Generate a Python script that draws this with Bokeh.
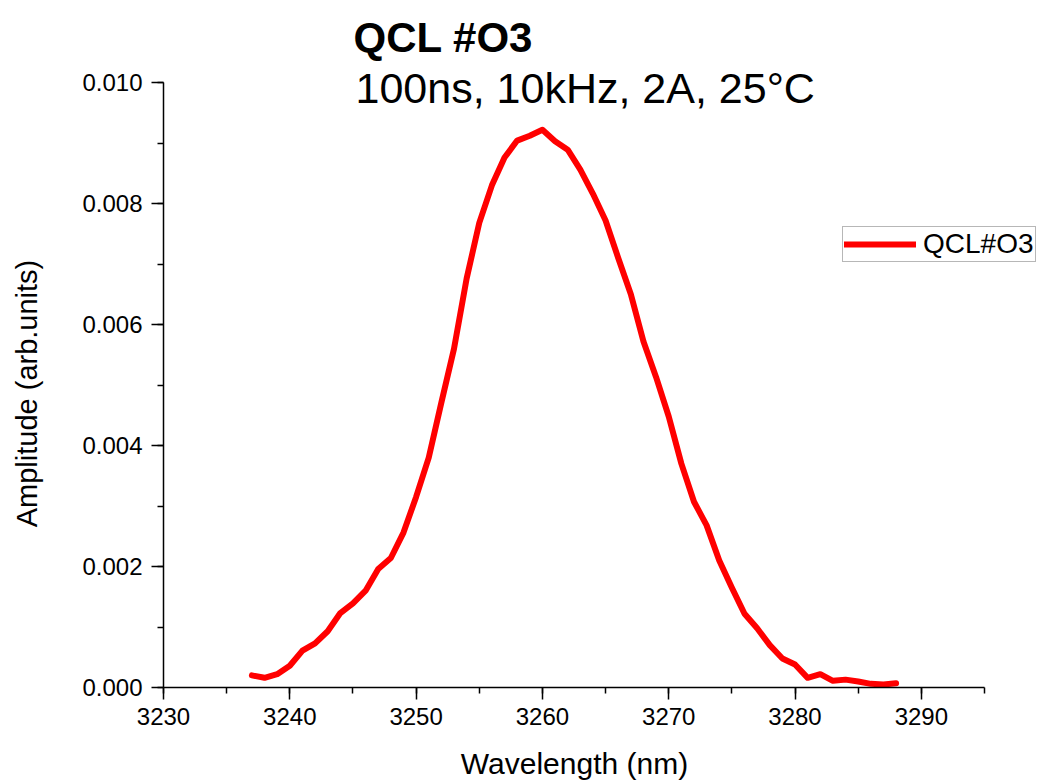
import math
from bokeh.plotting import figure
from bokeh.models import (Range1d, SingleIntervalTicker, PrintfTickFormatter, Label,
                          Legend, LegendItem, ColumnDataSource, LinearAxis)
from bokeh.embed import file_html
from bokeh.resources import INLINE

# Data
wavelength_nm = [3237, 3238, 3239, 3240, 3241, 3242, 3243, 3244, 3245, 3246,
                 3247, 3248, 3249, 3250, 3251, 3252, 3253, 3254, 3255, 3256,
                 3257, 3258, 3259, 3260, 3261, 3262, 3263, 3264, 3265, 3266,
                 3267, 3268, 3269, 3270, 3271, 3272, 3273, 3274, 3275, 3276,
                 3277, 3278, 3279, 3280, 3281, 3282, 3283, 3284, 3285, 3286,
                 3287, 3288]
amplitude = [0.00020, 0.00016, 0.00022, 0.00036, 0.00061, 0.00073, 0.00093, 0.00123, 0.00139, 0.00160,
             0.00196, 0.00214, 0.00256, 0.00315, 0.00380, 0.00471, 0.00560, 0.00676, 0.00768, 0.00830,
             0.00876, 0.00904, 0.00912, 0.00922, 0.00903, 0.00889, 0.00856, 0.00816, 0.00772, 0.00710,
             0.00650, 0.00572, 0.00513, 0.00448, 0.00370, 0.00307, 0.00268, 0.00210, 0.00165, 0.00122,
             0.00098, 0.00070, 0.00048, 0.00038, 0.00016, 0.00022, 0.00011, 0.00013, 0.00010, 0.00006,
             0.00005, 0.00007]
x_axis_bounds = (3230, 3295)
y_axis_bounds = (0.0, 0.010)
series_name = "QCL#O3"
title_text = "QCL #O3"
subtitle_text = "100ns, 10kHz, 2A, 25°C"
x_label = "Wavelength (nm)"
y_label = "Amplitude (arb.units)"

FONT = "Liberation Sans"
W, H = 1043, 781
# plot-area placement in pixels (left, right, top, bottom of the axes box)
FL, FR, FT, FB = 163, 984, 82, 687
xs = (FR - FL) / (x_axis_bounds[1] - x_axis_bounds[0])      # px per nm
ys = (FB - FT) / (y_axis_bounds[1] - y_axis_bounds[0])      # px per unit
x_start = x_axis_bounds[0] - FL / xs
x_end = x_axis_bounds[0] + (W - FL) / xs
y_start = y_axis_bounds[0] - (H - FB) / ys
y_end = y_axis_bounds[0] + FB / ys

def px_x(px):
    return x_axis_bounds[0] + (px - FL) / xs

def px_y(py):
    return y_axis_bounds[0] + (FB - py) / ys

p = figure(width=W, height=H, output_backend="svg", toolbar_location=None,
           x_range=Range1d(x_start, x_end), y_range=Range1d(y_start, y_end),
           x_axis_location=None, y_axis_location=None,
           min_border=0, min_border_left=0, min_border_right=0,
           min_border_top=0, min_border_bottom=0)
p.outline_line_color = None
p.background_fill_color = "white"
p.border_fill_color = "white"
p.grid.visible = False

src = ColumnDataSource(dict(x=wavelength_nm, y=amplitude))
r = p.line("x", "y", source=src, line_color="#ff0000", line_width=6,
           line_join="round", line_cap="round")

xaxis = LinearAxis(fixed_location=y_axis_bounds[0], bounds=x_axis_bounds,
                   ticker=SingleIntervalTicker(interval=10, num_minor_ticks=2),
                   formatter=PrintfTickFormatter(format="%d"))
yaxis = LinearAxis(fixed_location=x_axis_bounds[0], bounds=y_axis_bounds,
                   ticker=SingleIntervalTicker(interval=0.002, num_minor_ticks=2),
                   formatter=PrintfTickFormatter(format="%.3f"))
for ax in (xaxis, yaxis):
    ax.axis_line_color = "black"
    ax.axis_line_width = 1.5
    ax.major_tick_line_color = "black"
    ax.minor_tick_line_color = "black"
    ax.major_tick_line_width = 1.5
    ax.minor_tick_line_width = 1.5
    ax.major_tick_in = 0
    ax.major_tick_out = 12
    ax.minor_tick_in = 0
    ax.minor_tick_out = 6
    ax.major_label_text_font = FONT
    ax.major_label_text_font_size = "24px"
    ax.major_label_text_color = "black"
xaxis.major_label_standoff = 8
yaxis.major_label_standoff = 9
p.add_layout(xaxis, "below")
p.add_layout(yaxis, "left")

# axis titles
p.add_layout(Label(x=px_x(574), y=px_y(763), text=x_label, text_font=FONT,
                   text_font_size="30px", text_color="black",
                   text_align="center", text_baseline="middle"))
p.add_layout(Label(x=px_x(26.5), y=px_y(393), text=y_label, text_font=FONT,
                   text_font_size="29px", text_color="black", angle=math.pi / 2,
                   text_align="center", text_baseline="middle"))

# titles
p.add_layout(Label(x=px_x(353), y=px_y(37), text=title_text, text_font=FONT,
                   text_font_size="42px", text_font_style="bold", text_color="black",
                   text_baseline="middle", text_align="left"))
p.add_layout(Label(x=px_x(355), y=px_y(87), text=subtitle_text, text_font=FONT,
                   text_font_size="43px", text_color="black",
                   text_baseline="middle", text_align="left"))

legend = Legend(items=[LegendItem(label=series_name, renderers=[r])],
                location=(842, H - 262), orientation="vertical")
legend.border_line_color = "#707070"
legend.border_line_width = 1.5
legend.background_fill_color = "white"
legend.background_fill_alpha = 1
legend.padding = 1
legend.margin = 0
legend.spacing = 0
legend.glyph_width = 72
legend.glyph_height = 30
legend.label_height = 30
legend.label_standoff = 7
legend.label_text_font = FONT
legend.label_text_font_size = "28px"
legend.label_text_color = "black"
p.add_layout(legend, "center")

open("out.html", "w").write(file_html(p, INLINE))
